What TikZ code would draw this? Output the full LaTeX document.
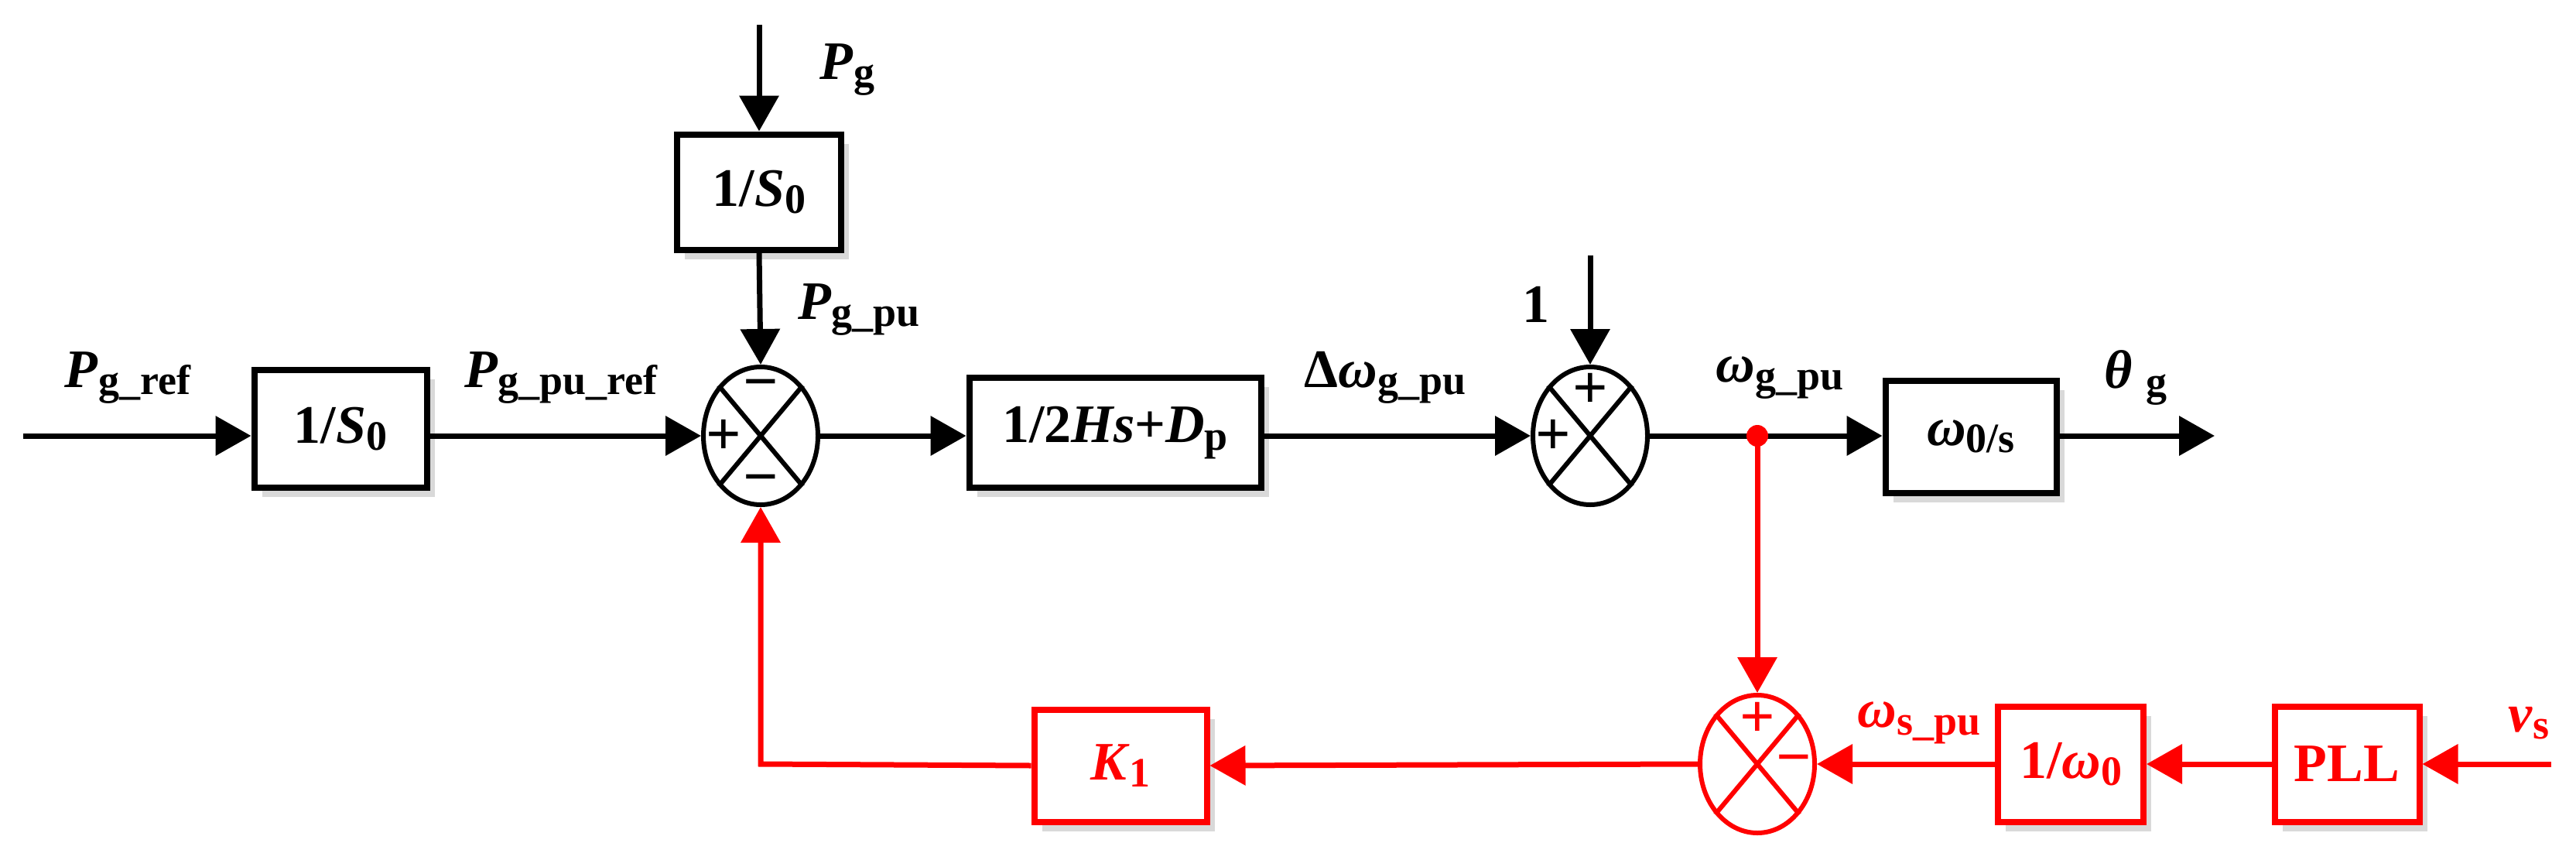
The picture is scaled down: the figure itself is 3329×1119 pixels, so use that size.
\documentclass[tikz,border=0pt]{standalone}
\usepackage{fontspec}
\setmainfont{Liberation Serif}
\usetikzlibrary{arrows.meta,shapes.geometric,shadows}
\newcommand{\lo}[1]{\raisebox{-.3ex}{\fontsize{54}{54}\selectfont #1}}
\definecolor{rd}{RGB}{255,0,0}
\begin{document}
\begin{tikzpicture}[x=1pt,y=-1pt,
  every node/.style={font=\fontsize{70}{80}\selectfont\bfseries},
  blk/.style={draw,line width=8pt,fill=white,inner sep=0pt,
     drop shadow={shadow xshift=10pt,shadow yshift=-12pt,fill=black!25,opacity=.6}},
  sumn/.style={draw,ellipse,line width=6pt,minimum width=148pt,minimum height=178pt,inner sep=0pt,fill=white},
  arr/.style={line width=7pt,-{Triangle[length=46pt,width=50pt]}},
  lbl/.style={inner sep=0pt}]
\useasboundingbox (0,0) rectangle (3329,1119);
% blocks
\node[blk,minimum width=223pt,minimum height=152pt] (b1) at (440,554) {1/\textit{S}\lo{0}};
\node[blk,minimum width=212pt,minimum height=149pt] (b0) at (981,248) {1/\textit{S}\lo{0}};
\node[blk,minimum width=377pt,minimum height=142pt] (bh) at (1441,559) {1/2\textit{Hs}+\textit{D}\lo{p}};
\node[blk,minimum width=221pt,minimum height=145pt] (bw) at (2547,564) {\textit{ω}\lo{0/s}};
\node[sumn] (s1) at (983,563) {};
\node[sumn] (s2) at (2055,563) {};
\begin{scope}[rd]
\node[blk,draw=rd,text=rd,minimum width=223pt,minimum height=145pt] (k1) at (1448,989) {\textit{K}\lo{1}};
\node[blk,draw=rd,text=rd,minimum width=188pt,minimum height=149pt] (bo) at (2676,987) {1/\textit{ω}\lo{0}};
\node[blk,draw=rd,text=rd,minimum width=187pt,minimum height=149pt] (pll) at (3033,987) {PLL};
\node[sumn,draw=rd] (s3) at (2271,987) {};
\end{scope}
% crosses
\foreach \s/\c in {s1/black,s2/black,s3/rd}{
  \draw[\c,line width=6pt] (\s.north west)--(\s.south east) (\s.north east)--(\s.south west);}
% signs
\node[lbl] at (983,505) {\fontsize{80}{80}\selectfont −};
\node[lbl] at (983,628) {\fontsize{80}{80}\selectfont −};
\node[lbl] at (935,565) {\fontsize{80}{80}\selectfont +};
\node[lbl] at (2055,505) {\fontsize{80}{80}\selectfont +};
\node[lbl] at (2007,565) {\fontsize{80}{80}\selectfont +};
\node[lbl,text=rd] at (2271,930) {\fontsize{80}{80}\selectfont +};
\node[lbl,text=rd] at (2318,990) {\fontsize{80}{80}\selectfont −};
% coordinates
\coordinate (in1) at (30,563);
\coordinate (pgt) at (981,32);
\coordinate (one) at (2055,330);
\coordinate (out) at (2862,563);
\coordinate (vs) at (3297,987);
\coordinate (fb) at (983,987);
% black connectors
\draw[arr] (in1) -- (b1.west |- in1);
\draw[arr] (b1.east |- s1.west) -- (s1.west);
\draw[arr] (pgt) -- (b0.north);
\draw[arr] (b0.south) -- (s1.north);
\draw[arr] (s1.east) -- (bh.west |- s1.east);
\draw[arr] (bh.east |- s2.west) -- (s2.west);
\draw[arr] (one) -- (s2.north);
\draw[arr] (s2.east) -- (bw.west |- s2.east);
\draw[arr] (bw.east |- out) -- (out);
% red
\begin{scope}[rd]
\fill (2271,563) circle (14pt);
\draw[arr] (2271,563) -- (s3.north);
\draw[arr] (vs) -- (pll.east);
\draw[arr] (pll.west) -- (bo.east);
\draw[arr] (bo.west) -- (s3.east);
\draw[arr] (s3.west) -- (k1.east);
\draw[arr] (k1.west) -- (fb) -- (s1.south);
\end{scope}
% labels
\node[lbl] at (165,488) {\textit{P}\lo{g\_ref}};
\node[lbl] at (725,488) {\textit{P}\lo{g\_pu\_ref}};
\node[lbl] at (1095,90) {\textit{P}\lo{g}};
\node[lbl] at (1110,400) {\textit{P}\lo{g\_pu}};
\node[lbl] at (1790,488) {Δ\textit{ω}\lo{g\_pu}};
\node[lbl] at (1985,393) {1};
\node[lbl] at (2300,488) {\textit{ω}\lo{g\_pu}};
\node[lbl] at (2760,488) {\textit{θ} \lo{g}};
\node[lbl,text=rd] at (2480,934) {\textit{ω}\lo{s\_pu}};
\node[lbl,text=rd] at (3268,934) {\textit{v}\lo{s}};
\end{tikzpicture}
\end{document}
